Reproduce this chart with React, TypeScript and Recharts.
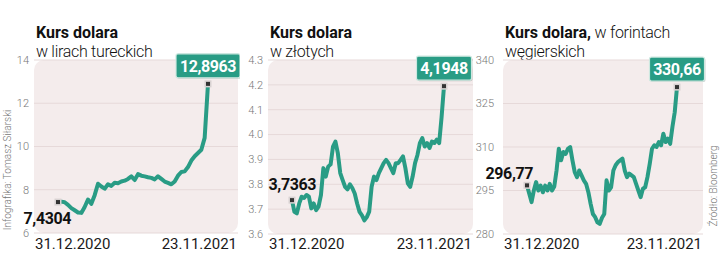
import { LineChart, Line, XAxis, YAxis, CartesianGrid, ReferenceDot } from "recharts";

const FONT = "Roboto, 'Noto Sans', sans-serif";
const TEAL = "#299c85";
const BG = "#f4ecec";
const GRID = "#e6d9d9";

const dates = ["31.12.2020", "23.11.2021"];

const tryTicks = [6, 8, 10, 12, 14];
const plnTicks = [3.6, 3.7, 3.8, 3.9, 4.0, 4.1, 4.2, 4.3];
const hufTicks = [280, 295, 310, 325, 340];

// kurs USD/TRY
const tryValues = [
  7.4304, 7.45, 7.42, 7.3, 7.15, 7.05, 6.95, 6.93, 7.2, 7.55, 7.35, 7.75, 8.28, 8.15, 8.05,
  8.25, 8.18, 8.32, 8.3, 8.38, 8.42, 8.5, 8.62, 8.45, 8.72, 8.65, 8.62, 8.58, 8.55, 8.48,
  8.62, 8.5, 8.38, 8.32, 8.25, 8.38, 8.65, 8.82, 8.85, 9.05, 9.35, 9.55, 9.7, 9.85, 10.4,
  12.8963,
];

// kurs USD/PLN
const plnValues = [
  3.7363, 3.689, 3.683, 3.723, 3.75, 3.745, 3.757, 3.75, 3.703, 3.723, 3.696, 3.71, 3.757,
  3.865, 3.831, 3.871, 3.88, 3.952, 3.972, 3.925, 3.845, 3.817, 3.79, 3.78, 3.8, 3.785,
  3.763, 3.723, 3.689, 3.675, 3.655, 3.668, 3.69, 3.79, 3.831, 3.817, 3.845, 3.865, 3.885,
  3.898, 3.885, 3.865, 3.845, 3.885, 3.885, 3.898, 3.912, 3.865, 3.804, 3.79, 3.831, 3.885,
  3.918, 3.966, 3.986, 3.952, 3.966, 3.946, 3.972, 3.966, 3.98, 3.966, 4.07, 4.1948,
];

// kurs USD/HUF
const hufValues = [
  296.77, 293.9, 291.0, 295, 297.9, 295, 296.7, 294.4, 296.7, 295, 297.3, 295, 296.4, 301.9,
  309.4, 305.4, 308.3, 307.6, 309.4, 310.0, 305.4, 301.3, 299.6, 301.9, 300.2, 298.5, 297.3,
  294.4, 290.4, 286.9, 285.8, 284.0, 283.5, 285.6, 286.9, 298.5, 295, 296.1, 301.9, 303.7,
  304.8, 305.4, 306.0, 301.9, 299.6, 300.8, 300.2, 299.6, 297.3, 295, 292.7, 295.6, 296.1,
  299.6, 304.2, 309.4, 310.6, 310.0, 311.7, 310.6, 314.6, 311.7, 312.9, 311.1, 317.0, 322.0,
  330.66,
];

type PanelProps = {
  left: number;
  width: number;
  plotW: number;
  plotH: number;
  values: number[];
  ticks: number[];
  decimals: number;
  tickFmt: (v: number) => string;
  tickMargin: number;
  padL: number;
  padR: number;
  startDx: number;
  startDy: number;
  bold: string;
  rest: string;
  line2: string;
};

const fmt = (v: number, d: number) => v.toFixed(d).replace(".", ",");

function Marker({ cx, cy }: { cx: number; cy: number }) {
  return (
    <g>
      <rect x={cx - 3.5} y={cy - 3.5} width={7} height={7} fill="#d8d2d2" />
      <rect x={cx - 2} y={cy - 2} width={4} height={4} fill="#333" />
    </g>
  );
}

function Panel(p: PanelProps) {
  const data = p.values.map((v, i) => ({ i, v }));
  const last = data.length - 1;
  const top = 60;
  const yw = 34;
  const endText = fmt(p.values[last], p.decimals);
  const boxW = endText.length * 9 + 1;
  const titleStyle: React.CSSProperties = {
    position: "absolute", left: 36, fontSize: 16, lineHeight: "18px", height: 18,
    letterSpacing: -0.3, color: "#111", fontWeight: 300, whiteSpace: "nowrap",
  };
  return (
    <div style={{ position: "absolute", left: p.left, top: 0, width: p.width, height: 263 }}>
      <div style={{ ...titleStyle, top: 24 }}>
        <span style={{ fontWeight: 700, letterSpacing: 0 }}>{p.bold}</span>
        {p.rest}
      </div>
      <div style={{ ...titleStyle, top: 43 }}>{p.line2}</div>
      <div
        style={{
          position: "absolute", left: yw, top, width: p.plotW, height: p.plotH,
          background: BG, borderRadius: 10,
        }}
      />
      <LineChart
        width={p.width}
        height={263}
        data={data}
        margin={{ top, right: p.width - yw - p.plotW, bottom: 263 - top - p.plotH, left: 0 }}
        style={{ position: "absolute", left: 0, top: 0 }}
      >
        <CartesianGrid horizontal vertical={false} stroke={GRID} strokeWidth={1} />
        <XAxis
          dataKey="i" type="number" hide domain={["dataMin", "dataMax"]}
          padding={{ left: p.padL, right: p.padR }}
        />
        <YAxis
          width={yw} domain={[p.ticks[0], p.ticks[p.ticks.length - 1]]} ticks={p.ticks}
          axisLine={false} tickLine={false} tickSize={0} tickMargin={p.tickMargin}
          tickFormatter={p.tickFmt} interval={0}
          tick={{ fontSize: 11, fill: "#777", fontFamily: FONT, fontWeight: 300 }}
        />
        <Line
          dataKey="v" stroke={TEAL} strokeWidth={4} dot={false} type="linear"
          strokeLinejoin="round" isAnimationActive={false}
        />
        <ReferenceDot
          x={0} y={p.values[0]} r={0} ifOverflow="visible"
          shape={(s: any) => (
            <g>
              <Marker cx={s.cx} cy={s.cy} />
              <text
                x={s.cx + p.startDx} y={s.cy + p.startDy} textAnchor="end"
                fontFamily={FONT} fontWeight={700} fontSize={16} letterSpacing={-0.4} fill="#111"
              >
                {fmt(p.values[0], p.decimals)}
              </text>
            </g>
          )}
        />
        <ReferenceDot
          x={last} y={p.values[last]} r={0} ifOverflow="visible"
          shape={(s: any) => (
            <g>
              <Marker cx={s.cx} cy={s.cy} />
              <rect x={s.cx - boxW / 2 + 1} y={s.cy - 29} width={boxW} height={24} rx={2} fill="rgba(0,0,0,0.18)" />
              <rect
                x={s.cx - boxW / 2} y={s.cy - 30} width={boxW} height={24} rx={2}
                fill={TEAL} stroke="#cde8e0" strokeWidth={1.2}
              />
              <text
                x={s.cx} y={s.cy - 12} textAnchor="middle" fontFamily={FONT} fontWeight={700}
                fontSize={16} letterSpacing={-0.4} fill="#fff"
              >
                {endText}
              </text>
            </g>
          )}
        />
      </LineChart>
      <div
        style={{
          position: "absolute", left: yw + 1, top: 237, fontSize: 15, lineHeight: "15px",
          color: "#1a1a1a",
        }}
      >
        {dates[0]}
      </div>
      <div
        style={{
          position: "absolute", right: p.width - yw - p.plotW + 1, top: 237, fontSize: 15,
          lineHeight: "15px", color: "#1a1a1a",
        }}
      >
        {dates[1]}
      </div>
    </div>
  );
}

export default function App() {
  return (
    <div
      style={{
        position: "absolute", left: 0, top: 0, width: 720, height: 263, background: "#fff",
        fontFamily: FONT, overflow: "hidden",
      }}
    >
      <Panel
        left={0} width={240} plotW={204} plotH={173} values={tryValues} ticks={tryTicks}
        decimals={4} tickFmt={(v) => String(v)} tickMargin={5} padL={24} padR={30}
        startDx={13} startDy={22} bold="Kurs dolara" rest="" line2="w lirach tureckich"
      />
      <Panel
        left={234} width={240} plotW={205} plotH={174} values={plnValues} ticks={plnTicks}
        decimals={4} tickFmt={(v) => v.toFixed(1)} tickMargin={5} padL={24} padR={29}
        startDx={24} startDy={-10} bold="Kurs dolara" rest="" line2="w złotych"
      />
      <Panel
        left={469} width={240} plotW={200} plotH={174} values={hufValues} ticks={hufTicks}
        decimals={2} tickFmt={(v) => String(v)} tickMargin={9} padL={24} padR={26}
        startDx={6} startDy={-6} bold="Kurs dolara," rest=" w forintach" line2="węgierskich"
      />
      <div
        style={{
          position: "absolute", left: 7, top: 170, transform: "translate(-50%, -50%) rotate(-90deg)",
          fontSize: 10, color: "#777", whiteSpace: "nowrap", fontWeight: 300,
        }}
      >
        Infografika: Tomasz Siłarski
      </div>
      <div
        style={{
          position: "absolute", left: 713, top: 186, transform: "translate(-50%, -50%) rotate(-90deg)",
          fontSize: 10, color: "#777", whiteSpace: "nowrap", fontWeight: 300,
        }}
      >
        Źródło: Bloomberg
      </div>
    </div>
  );
}
